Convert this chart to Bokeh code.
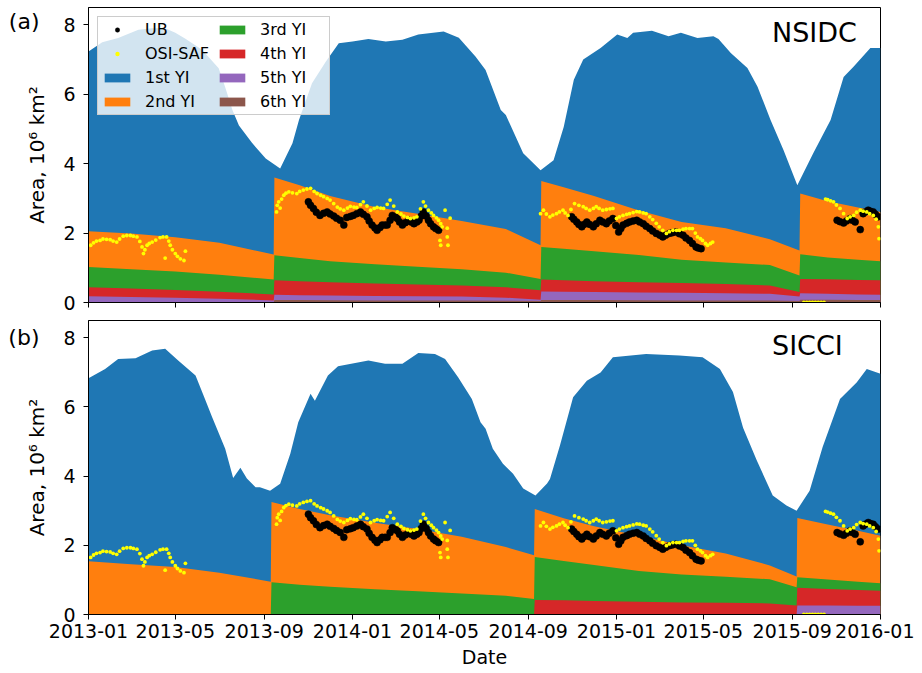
import datetime as dt
from bokeh.plotting import figure
from bokeh.models import (Legend, LegendItem, Label, FixedTicker, LinearAxis,
                          CustomJSTickFormatter, DatetimeTickFormatter, Range1d)
from bokeh.layouts import column
from bokeh.embed import file_html
from bokeh.resources import INLINE

# ---------------- data ----------------
x_tick_labels = ["2013-01", "2013-05", "2013-09", "2014-01", "2014-05",
                 "2014-09", "2015-01", "2015-05", "2015-09", "2016-01"]
y_ticks = [0, 2, 4, 6, 8]

class_names = ["1st YI", "2nd YI", "3rd YI", "4th YI", "5th YI", "6th YI"]
class_colors = ["#1f77b4", "#ff7f0e", "#2ca02c", "#d62728", "#9467bd", "#8c564b"]

# NSIDC: total ice area (top of the blue area), 10^6 km^2
nsidc_total_dates = [
    "2013-01-01", "2013-01-20", "2013-02-11", "2013-03-11", "2013-03-30", "2013-04-17",
    "2013-05-01", "2013-05-15", "2013-06-07", "2013-06-30", "2013-07-09", "2013-07-19",
    "2013-07-28", "2013-08-15", "2013-09-03", "2013-09-23", "2013-10-10", "2013-10-19",
    "2013-11-06", "2013-11-25", "2013-12-13", "2014-01-01", "2014-01-23", "2014-02-16",
    "2014-03-11", "2014-04-02", "2014-05-07", "2014-05-28", "2014-06-20", "2014-07-04",
    "2014-07-25", "2014-08-01", "2014-08-25", "2014-09-18", "2014-10-06", "2014-10-20",
    "2014-11-03", "2014-11-16", "2014-12-10", "2015-01-02", "2015-01-16", "2015-01-24",
    "2015-02-19", "2015-03-14", "2015-03-31", "2015-04-23", "2015-05-15", "2015-05-22",
    "2015-06-08", "2015-07-01", "2015-07-15", "2015-08-02", "2015-08-20", "2015-09-08",
    "2015-09-30", "2015-10-24", "2015-11-11", "2015-11-25", "2015-12-18", "2016-01-01"]
nsidc_total = [
    7.23, 7.50, 7.62, 7.86, 7.90, 7.90,
    7.77, 7.60, 7.28, 6.75, 6.20, 5.55,
    5.10, 4.60, 4.15, 3.86, 4.59, 5.26,
    6.32, 6.94, 7.47, 7.52, 7.59, 7.52,
    7.57, 7.72, 7.81, 7.63, 7.09, 6.70,
    5.55, 5.40, 4.30, 3.81, 4.10, 5.06,
    6.42, 7.00, 7.33, 7.72, 7.62, 7.77,
    7.83, 7.67, 7.77, 7.62, 7.67, 7.59,
    7.19, 6.76, 6.22, 5.26, 4.39, 3.38,
    4.30, 5.26, 6.50, 6.80, 7.33, 7.33]

# NSIDC: area of ice at least N years old (tops of the stacked layers)
nsidc_layer_dates = [
    "2013-01-01", "2013-03-01", "2013-05-01", "2013-07-01", "2013-09-14",
    "2013-09-15", "2013-10-20", "2013-12-01", "2014-02-01", "2014-04-01", "2014-06-01", "2014-08-01", "2014-09-18",
    "2014-09-19", "2014-10-20", "2014-12-01", "2015-02-01", "2015-04-01", "2015-06-01", "2015-08-01", "2015-09-11",
    "2015-09-12", "2015-10-20", "2015-12-01", "2016-01-01"]
nsidc_ge2 = [2.05, 1.99, 1.88, 1.72, 1.38,
             3.60, 3.38, 3.07, 2.75, 2.56, 2.35, 2.12, 1.65,
             3.50, 3.32, 3.07, 2.65, 2.32, 2.14, 1.82, 1.50,
             3.14, 2.92, 2.74, 2.61]
nsidc_ge3 = [1.02, 0.96, 0.89, 0.80, 0.66,
             1.36, 1.28, 1.19, 1.10, 1.03, 0.96, 0.86, 0.68,
             1.60, 1.55, 1.48, 1.37, 1.23, 1.15, 1.08, 0.78,
             1.39, 1.30, 1.23, 1.19]
nsidc_ge4 = [0.44, 0.40, 0.36, 0.31, 0.23,
             0.64, 0.61, 0.58, 0.55, 0.52, 0.49, 0.44, 0.35,
             0.66, 0.64, 0.61, 0.58, 0.56, 0.53, 0.49, 0.30,
             0.68, 0.67, 0.65, 0.64]
nsidc_ge5 = [0.18, 0.16, 0.14, 0.11, 0.06,
             0.22, 0.21, 0.20, 0.19, 0.18, 0.17, 0.14, 0.08,
             0.32, 0.31, 0.30, 0.29, 0.28, 0.27, 0.25, 0.17,
             0.27, 0.25, 0.23, 0.22]
nsidc_ge6 = [0.0, 0.0, 0.0, 0.0, 0.0,
             0.07, 0.07, 0.065, 0.06, 0.06, 0.055, 0.05, 0.04,
             0.07, 0.07, 0.07, 0.065, 0.06, 0.06, 0.055, 0.04,
             0.08, 0.08, 0.07, 0.07]

# SICCI: total ice area
sicci_total_dates = [
    "2013-01-01", "2013-01-24", "2013-02-11", "2013-03-07", "2013-03-30", "2013-04-17",
    "2013-05-05", "2013-05-29", "2013-06-11", "2013-06-21", "2013-07-09", "2013-07-20",
    "2013-07-30", "2013-08-08", "2013-08-20", "2013-08-26", "2013-09-09", "2013-09-23",
    "2013-10-07", "2013-10-18", "2013-11-04", "2013-11-10", "2013-11-28", "2013-12-12",
    "2014-01-23", "2014-02-15", "2014-03-11", "2014-04-02", "2014-04-25", "2014-05-09",
    "2014-05-27", "2014-06-15", "2014-06-27", "2014-07-04", "2014-07-14", "2014-07-28",
    "2014-08-11", "2014-08-25", "2014-09-11", "2014-09-27", "2014-10-01", "2014-10-15",
    "2014-11-02", "2014-11-21", "2014-12-10", "2014-12-27", "2015-02-11", "2015-03-29",
    "2015-04-30", "2015-05-24", "2015-06-11", "2015-06-25", "2015-07-14", "2015-08-05",
    "2015-08-24", "2015-09-07", "2015-09-25", "2015-10-13", "2015-11-06", "2015-11-29",
    "2015-12-13", "2016-01-01"]
sicci_total = [
    6.83, 7.10, 7.39, 7.41, 7.63, 7.68,
    7.34, 6.91, 6.23, 5.70, 4.79, 3.95,
    4.24, 3.93, 3.68, 3.68, 3.58, 3.78,
    4.65, 5.56, 6.38, 6.18, 6.91, 7.18,
    7.34, 7.25, 7.25, 7.56, 7.53, 7.39,
    6.86, 6.23, 5.56, 5.37, 4.79, 4.36,
    4.07, 3.64, 3.44, 3.79, 3.92, 4.90,
    6.28, 6.76, 7.00, 7.44, 7.53, 7.49,
    7.44, 7.10, 6.43, 5.40, 4.45, 3.44,
    3.15, 3.00, 3.58, 4.84, 6.23, 6.71,
    7.10, 6.96]

sicci_layer_dates = [
    "2013-01-01", "2013-03-01", "2013-05-01", "2013-07-01", "2013-09-10",
    "2013-09-11", "2013-10-20", "2013-12-01", "2014-02-01", "2014-04-01", "2014-06-01", "2014-08-01", "2014-09-09",
    "2014-09-10", "2014-10-20", "2014-12-01", "2015-02-01", "2015-04-01", "2015-06-01", "2015-08-01", "2015-09-07",
    "2015-09-08", "2015-10-20", "2015-12-01", "2016-01-01"]
sicci_ge2 = [1.54, 1.45, 1.37, 1.21, 0.95,
             3.25, 3.05, 2.87, 2.65, 2.47, 2.25, 1.95, 1.71,
             3.05, 2.78, 2.55, 2.28, 2.00, 1.76, 1.42, 1.10,
             2.79, 2.60, 2.42, 2.28]
sicci_ge3 = [0.0, 0.0, 0.0, 0.0, 0.0,
             0.93, 0.86, 0.80, 0.73, 0.67, 0.61, 0.54, 0.45,
             1.66, 1.55, 1.43, 1.26, 1.16, 1.09, 1.02, 0.79,
             1.08, 1.01, 0.95, 0.90]
sicci_ge4 = [0.0, 0.0, 0.0, 0.0, 0.0,
             0.0, 0.0, 0.0, 0.0, 0.0, 0.0, 0.0, 0.0,
             0.42, 0.41, 0.39, 0.37, 0.35, 0.34, 0.32, 0.26,
             0.77, 0.74, 0.71, 0.69]
sicci_ge5 = [0.0, 0.0, 0.0, 0.0, 0.0,
             0.0, 0.0, 0.0, 0.0, 0.0, 0.0, 0.0, 0.0,
             0.0, 0.0, 0.0, 0.0, 0.0, 0.0, 0.0, 0.0,
             0.26, 0.26, 0.25, 0.25]

# UB observations
ub_dates = [
    "2013-11-01", "2013-11-04", "2013-11-08", "2013-11-12", "2013-11-17", "2013-11-22",
    "2013-11-27", "2013-12-01", "2013-12-06", "2013-12-10", "2013-12-15", "2013-12-20",
    "2013-12-24", "2013-12-29", "2014-01-02", "2014-01-07", "2014-01-12", "2014-01-16",
    "2014-01-21", "2014-01-24", "2014-01-28", "2014-02-01", "2014-02-04", "2014-02-08",
    "2014-02-11", "2014-02-15", "2014-02-18", "2014-02-22", "2014-02-25", "2014-03-01",
    "2014-03-04", "2014-03-07", "2014-03-11", "2014-03-15", "2014-03-20", "2014-03-23",
    "2014-03-27", "2014-03-31", "2014-04-03", "2014-04-06", "2014-04-09", "2014-04-13",
    "2014-04-16", "2014-04-19", "2014-04-23", "2014-04-26", "2014-04-30",
    "2014-10-31", "2014-11-03", "2014-11-07", "2014-11-10", "2014-11-14", "2014-11-17",
    "2014-11-21", "2014-11-25", "2014-11-30", "2014-12-04", "2014-12-09", "2014-12-13",
    "2014-12-18", "2014-12-22", "2014-12-27", "2014-12-31", "2015-01-04", "2015-01-07",
    "2015-01-10", "2015-01-15", "2015-01-19", "2015-01-24", "2015-01-29", "2015-02-02",
    "2015-02-07", "2015-02-11", "2015-02-16", "2015-02-20", "2015-02-25", "2015-03-02",
    "2015-03-06", "2015-03-10", "2015-03-15", "2015-03-19", "2015-03-24", "2015-03-29",
    "2015-04-03", "2015-04-07", "2015-04-12", "2015-04-16", "2015-04-21", "2015-04-24",
    "2015-04-28",
    "2015-11-02", "2015-11-06", "2015-11-11", "2015-11-15", "2015-11-20", "2015-11-23",
    "2015-11-27", "2015-12-04", "2015-12-08", "2015-12-11", "2015-12-15", "2015-12-18",
    "2015-12-22", "2015-12-25", "2015-12-29"]
ub_area = [
    2.90, 2.80, 2.71, 2.60, 2.51, 2.57,
    2.61, 2.55, 2.49, 2.43, 2.37, 2.23,
    2.45, 2.48, 2.51, 2.56, 2.61, 2.54,
    2.47, 2.35, 2.23, 2.15, 2.08, 2.16,
    2.23, 2.23, 2.23, 2.37, 2.51, 2.46,
    2.42, 2.32, 2.23, 2.30, 2.37, 2.32,
    2.27, 2.32, 2.37, 2.49, 2.61, 2.49,
    2.37, 2.27, 2.18, 2.13, 2.08,
    2.47, 2.40, 2.32, 2.25, 2.18, 2.25,
    2.32, 2.25, 2.18, 2.27, 2.37, 2.32,
    2.27, 2.35, 2.42, 2.22, 2.03, 2.13,
    2.23, 2.28, 2.32, 2.35, 2.37, 2.32,
    2.27, 2.20, 2.13, 2.06, 1.99, 1.94,
    1.89, 1.94, 1.99, 2.01, 2.03, 1.98,
    1.94, 1.86, 1.79, 1.70, 1.60, 1.57,
    1.55,
    2.37, 2.33, 2.29, 2.35, 2.42, 2.37,
    2.32, 2.10, 2.56, 2.61, 2.66, 2.63,
    2.61, 2.54, 2.47]

# OSI-SAF observations
osi_dates = [
    "2013-01-04", "2013-01-08", "2013-01-12", "2013-01-17", "2013-01-21", "2013-01-26",
    "2013-01-31", "2013-02-04", "2013-02-09", "2013-02-13", "2013-02-18", "2013-02-23",
    "2013-02-28", "2013-03-04", "2013-03-09", "2013-03-13", "2013-03-16", "2013-03-18",
    "2013-03-20", "2013-03-23", "2013-03-26", "2013-03-30", "2013-04-04", "2013-04-10",
    "2013-04-14", "2013-04-19", "2013-04-22", "2013-04-24", "2013-04-27", "2013-05-01",
    "2013-05-04", "2013-05-08", "2013-05-13", "2013-04-17", "2013-05-15",
    "2013-09-18", "2013-09-19", "2013-09-21", "2013-09-23", "2013-09-25", "2013-09-28",
    "2013-10-01", "2013-10-05", "2013-10-10", "2013-10-16", "2013-10-20", "2013-10-25",
    "2013-10-30", "2013-11-04", "2013-11-09", "2013-11-13", "2013-11-18", "2013-11-22",
    "2013-11-27", "2013-12-01", "2013-12-06", "2013-12-11", "2013-12-15", "2013-12-20",
    "2013-12-25", "2013-12-29", "2014-01-03", "2014-01-07", "2014-01-12", "2014-01-16",
    "2014-01-21", "2014-01-26", "2014-01-31", "2014-02-04", "2014-02-09", "2014-02-13",
    "2014-02-18", "2014-02-22", "2014-02-27", "2014-03-04", "2014-03-09", "2014-03-13",
    "2014-03-18", "2014-03-22", "2014-03-27", "2014-03-31", "2014-04-05", "2014-04-09",
    "2014-04-12", "2014-04-16", "2014-04-20", "2014-04-23", "2014-04-27", "2014-04-30",
    "2014-05-03", "2014-05-05", "2014-05-02", "2014-05-03", "2014-05-09", "2014-05-12",
    "2014-05-12", "2014-05-13", "2014-05-16",
    "2014-09-18", "2014-09-22", "2014-09-26", "2014-10-01", "2014-10-05", "2014-10-10",
    "2014-10-14", "2014-10-19", "2014-10-22", "2014-10-26", "2014-10-30", "2014-11-04",
    "2014-11-10", "2014-11-16", "2014-11-20", "2014-11-25", "2014-11-30", "2014-12-04",
    "2014-12-08", "2014-12-13", "2014-12-18", "2014-12-23", "2014-12-27", "2015-01-01",
    "2015-01-05", "2015-01-10", "2015-01-15", "2015-01-19", "2015-01-24", "2015-01-29",
    "2015-02-02", "2015-02-07", "2015-02-11", "2015-02-16", "2015-02-20", "2015-02-25",
    "2015-03-01", "2015-03-06", "2015-03-11", "2015-03-15", "2015-03-20", "2015-03-25",
    "2015-03-29", "2015-04-03", "2015-04-07", "2015-04-12", "2015-04-16", "2015-04-20",
    "2015-04-23", "2015-04-27", "2015-04-30", "2015-05-04", "2015-05-07", "2015-05-11",
    "2015-05-14",
    "2015-09-17", "2015-09-21", "2015-09-25", "2015-09-29", "2015-10-03", "2015-10-07",
    "2015-10-11", "2015-10-15",
    "2015-10-17", "2015-10-20", "2015-10-24", "2015-10-28", "2015-11-01", "2015-11-06",
    "2015-11-11", "2015-11-16", "2015-11-20", "2015-11-25", "2015-11-29", "2015-12-04",
    "2015-12-08", "2015-12-13", "2015-12-17", "2015-12-22", "2015-12-26", "2015-12-29",
    "2015-12-30"]
osi_area = [
    1.65, 1.72, 1.77, 1.79, 1.83, 1.82,
    1.81, 1.77, 1.74, 1.83, 1.91, 1.93,
    1.93, 1.91, 1.89, 1.76, 1.60, 1.41,
    1.52, 1.65, 1.70, 1.74, 1.80, 1.87,
    1.89, 1.89, 1.77, 1.65, 1.52, 1.41,
    1.33, 1.26, 1.21, 1.28, 1.48,
    2.61, 2.80, 2.90, 2.72, 2.98, 3.09,
    3.15, 3.19, 3.16, 3.14, 3.20, 3.24,
    3.27, 3.29, 3.20, 3.14, 3.09, 3.05,
    3.00, 2.95, 2.85, 2.75, 2.70, 2.66,
    2.72, 2.77, 2.75, 2.74, 2.82, 2.90,
    2.78, 2.66, 2.71, 2.74, 2.72, 2.71,
    2.83, 2.95, 2.78, 2.61, 2.55, 2.49,
    2.45, 2.42, 2.44, 2.47, 2.70, 2.90,
    2.78, 2.66, 2.58, 2.51, 2.44, 2.37,
    2.27, 2.18, 1.79, 1.65, 2.66, 2.14,
    1.89, 1.65, 2.43,
    2.56, 2.66, 2.55, 2.47, 2.52, 2.56,
    2.61, 2.66, 2.58, 2.51, 2.68, 2.85,
    2.80, 2.76, 2.71, 2.66, 2.71, 2.76,
    2.71, 2.66, 2.68, 2.70, 2.71, 2.42,
    2.47, 2.51, 2.54, 2.56, 2.59, 2.62,
    2.61, 2.58, 2.56, 2.47, 2.39, 2.28,
    2.18, 2.08, 1.99, 2.04, 2.08, 2.08,
    2.08, 2.11, 2.13, 2.13, 2.13, 2.00,
    1.89, 1.84, 1.79, 1.70, 1.65, 1.70,
    1.74,
    0.0, 0.0, 0.0, 0.0, 0.0, 0.0,
    0.0, 0.0,
    2.98, 2.96, 2.93, 2.90, 2.81, 2.71,
    2.56, 2.42, 2.47, 2.51, 2.60, 2.66,
    2.63, 2.61, 2.56, 2.51, 2.40, 2.18,
    1.84]

# panel tags and where (in area units) they sit
panel_tags = ["(a)", "(b)"]
panel_tag_y = [8.09, 8.0]
panel_names = ["NSIDC", "SICCI"]

# ---------------- helpers ----------------
EPOCH = dt.datetime(1970, 1, 1)


def D(s):
    return dt.datetime.strptime(s, "%Y-%m-%d")


def ms(d):
    return (d - EPOCH).total_seconds() * 1000.0


FONT = "DejaVu Sans"
X0 = dt.datetime(2013, 1, 1)
X1 = dt.datetime(2016, 1, 1)
x_ticks = [ms(dt.datetime.strptime(s, "%Y-%m")) for s in x_tick_labels]


def make_panel(total_dates, total, layer_dates, layers, k, bottom):
    p = figure(x_axis_type="datetime", output_backend="svg", toolbar_location=None,
               frame_width=792, frame_height=294 if bottom else 295,
               x_range=Range1d(X0, X1), y_range=Range1d(0, 8.5),
               min_border_left=88, min_border_right=34,
               min_border_top=6 if bottom else 7,
               min_border_bottom=0 if bottom else 12)
    p.outline_line_color = "black"
    p.outline_line_width = 1
    p.xgrid.grid_line_color = None
    p.ygrid.grid_line_color = None
    p.background_fill_color = "white"
    p.border_fill_color = "white"

    td = [D(s) for s in total_dates]
    ld = [D(s) for s in layer_dates]
    renderers = [p.varea(x=td, y1=0, y2=total, fill_color=class_colors[0])]
    for i, vals in enumerate(layers):
        renderers.append(p.varea(x=ld, y1=0, y2=vals, fill_color=class_colors[i + 1]))

    r_ub = p.scatter(x=[D(s) for s in ub_dates], y=ub_area, size=7, marker="circle",
                     fill_color="black", line_color="black", line_width=0.5)
    r_osi = p.scatter(x=[D(s) for s in osi_dates], y=osi_area, size=3.8, marker="circle",
                      fill_color="#ffff00", line_color=None)

    for ax in (p.xaxis[0], p.yaxis[0]):
        ax.axis_line_color = "black"
        ax.major_tick_line_color = "black"
        ax.major_tick_out = 5
        ax.major_tick_in = 0
        ax.minor_tick_line_color = None
        ax.major_label_text_font = FONT
        ax.major_label_text_font_size = "19px"
        ax.major_label_text_color = "black"
        ax.axis_label_text_font = FONT
        ax.axis_label_text_font_size = "19px"
        ax.axis_label_text_font_style = "normal"
        ax.axis_label_text_color = "black"

    p.yaxis.ticker = FixedTicker(ticks=y_ticks)
    p.yaxis.axis_label = "Area, 10\u2076 km\u00b2"
    p.yaxis.axis_label_text_font_size = "20px"
    p.yaxis.major_label_standoff = 8
    p.yaxis.axis_label_standoff = 11

    fmt = "%Y-%m"
    p.xaxis.ticker = FixedTicker(ticks=x_ticks)
    p.xaxis.formatter = DatetimeTickFormatter(
        microseconds=fmt, milliseconds=fmt, seconds=fmt, minsec=fmt, minutes=fmt,
        hourmin=fmt, hours=fmt, days=fmt, months=fmt, years=fmt)
    if bottom:
        p.xaxis.axis_label = "Date"
        p.xaxis.major_label_standoff = 4
        p.xaxis.axis_label_standoff = 5
    else:
        p.xaxis.major_label_text_font_size = "1px"
        p.xaxis.major_label_text_color = None
        p.xaxis.major_label_standoff = 0

    # panel tag "(a)"/"(b)": a tick label of an extra, bare axis on the left
    tag_axis = LinearAxis(ticker=FixedTicker(ticks=[panel_tag_y[k]]),
                          formatter=CustomJSTickFormatter(code="return '%s'" % panel_tags[k]),
                          axis_line_color=None, major_tick_line_color=None,
                          minor_tick_line_color=None, major_tick_out=0, major_tick_in=0,
                          major_label_standoff=-17,
                          major_label_text_font=FONT, major_label_text_font_size="22px",
                          major_label_text_color="black")
    p.add_layout(tag_axis, "left")

    p.add_layout(Label(x=ms(dt.datetime(2015, 8, 4)), y=7.78, text=panel_names[k],
                       text_font=FONT, text_font_size="27px", text_color="black",
                       text_baseline="middle", text_align="left"))
    return p, renderers, r_ub, r_osi


p1, rs1, ub1, osi1 = make_panel(nsidc_total_dates, nsidc_total, nsidc_layer_dates,
                                [nsidc_ge2, nsidc_ge3, nsidc_ge4, nsidc_ge5, nsidc_ge6],
                                0, False)
p2, rs2, ub2, osi2 = make_panel(sicci_total_dates, sicci_total, sicci_layer_dates,
                                [sicci_ge2, sicci_ge3, sicci_ge4, sicci_ge5],
                                1, True)

items = [LegendItem(label="UB", renderers=[ub1]),
         LegendItem(label="OSI-SAF", renderers=[osi1])]
for nm, r in zip(class_names, rs1):
    items.append(LegendItem(label=nm, renderers=[r]))

legend = Legend(items=items, location="top_left", ncols=2,
                label_text_font=FONT, label_text_font_size="16px",
                label_text_color="black",
                glyph_width=32, glyph_height=11, label_standoff=12,
                label_width=66, spacing=5, padding=3, margin=9,
                background_fill_color="white", background_fill_alpha=0.8,
                border_line_color="#cccccc", border_line_alpha=1.0)
p1.add_layout(legend)

layout = column(p1, p2, spacing=0)
open("out.html", "w").write(file_html(layout, INLINE))
